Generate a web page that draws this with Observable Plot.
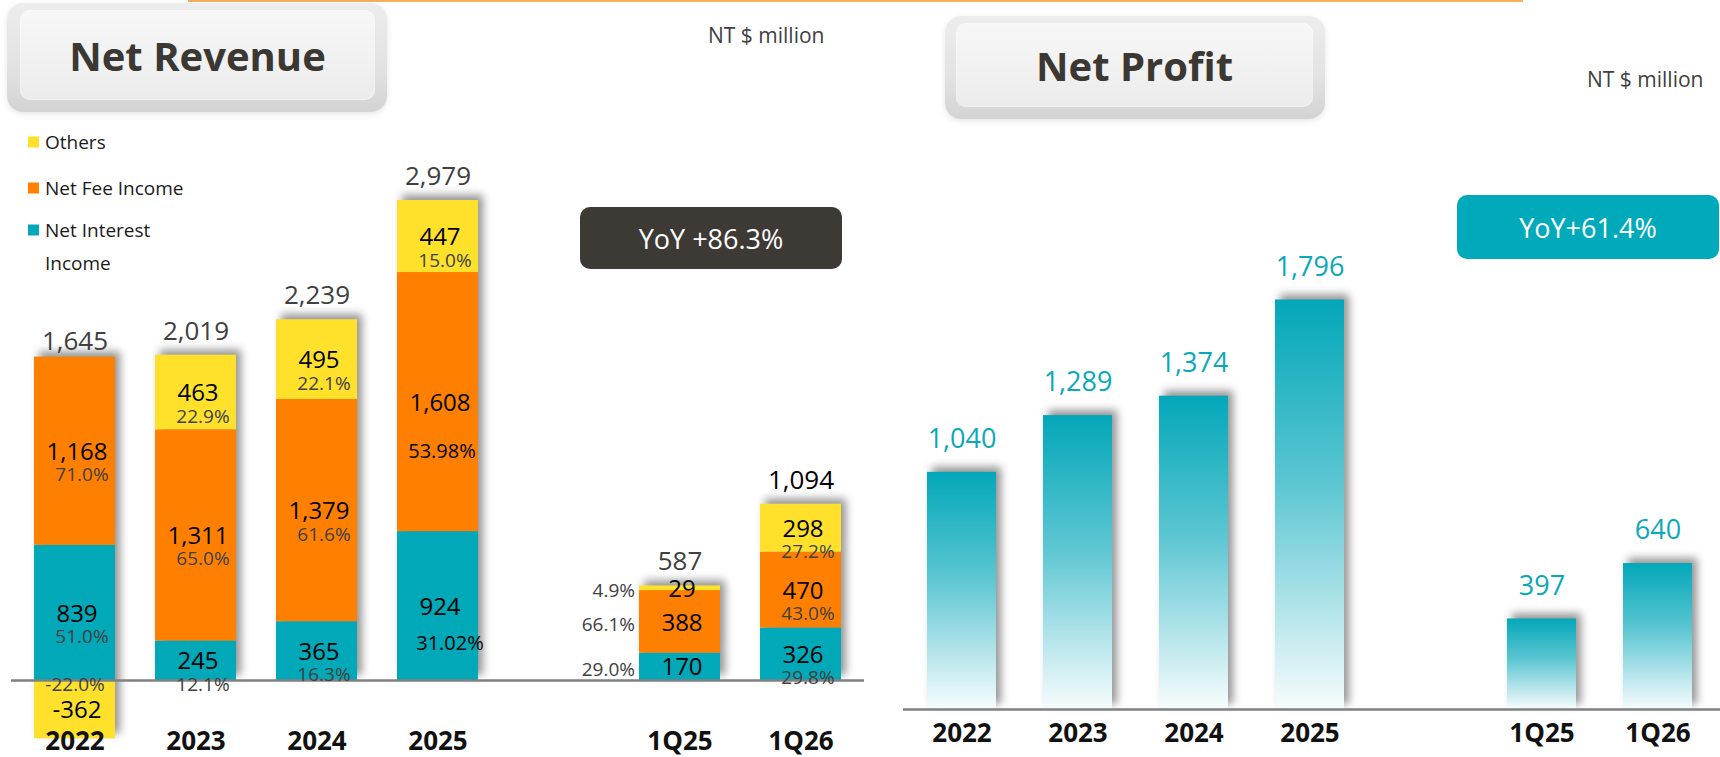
<!DOCTYPE html>
<html>
<head>
<meta charset="utf-8">
<script src="https://cdn.jsdelivr.net/npm/d3@7"></script>
<script src="https://cdn.jsdelivr.net/npm/@observablehq/plot@0.6"></script>
<style>
  body { margin: 0; background: #fff; font-family: 'Open Sans', 'Noto Sans', sans-serif; }
  #wrap { position: relative; width: 1720px; height: 757px; overflow: hidden; background: #fff; }
  #left, #right { position: absolute; top: 0; }
  #left { left: 0; }
  #right { left: 864px; }
  #wrap svg { background: transparent !important; overflow: visible; }
  g[aria-label="bar"] { filter: drop-shadow(5px -5px 4px rgba(0,0,0,0.42)); }
  .topline { position: absolute; left: 188px; top: 0; width: 1335px; height: 2px; background: #F7AE5E; }
  .key { position: absolute; border-radius: 16px; background: linear-gradient(180deg, #ededed 0%, #e2e2e2 60%, #d3d3d3 100%); box-shadow: 0 2px 6px rgba(0,0,0,0.10); }
  .face { position: absolute; border-radius: 10px; background: linear-gradient(180deg, #f7f7f7, #ececec);
          display: flex; align-items: center; justify-content: center; font-weight: 700; font-size: 40px; color: #3b3834;
          box-shadow: inset 0 0 2px rgba(255,255,255,0.8); }
  .unit { position: absolute; font-size: 21px; color: #404040; line-height: 1; transform: translateY(-50%); white-space: nowrap; }
  .leg { position: absolute; font-size: 19px; color: #1a1a1a; line-height: 1; transform: translateY(-50%); white-space: nowrap; }
  .sw { position: absolute; width: 11px; height: 11px; transform: translateY(-50%); }
  .yoy { position: absolute; border-radius: 10px; color: #fff; font-size: 27px; font-weight: 500;
         display: flex; align-items: center; justify-content: center; }
</style>
</head>
<body>
<div id="wrap">
  <div id="left"></div>
  <div id="right"></div>

  <div class="topline"></div>

  <div class="key" style="left:7px;top:3px;width:380px;height:109px;">
    <div class="face" style="left:13px;top:7px;width:355px;height:90px;">Net Revenue</div>
  </div>
  <div class="key" style="left:945px;top:16px;width:380px;height:103px;">
    <div class="face" style="left:11px;top:7px;width:357px;height:84px;">Net Profit</div>
  </div>

  <div class="unit" style="left:708px;top:35px;">NT $ million</div>
  <div class="unit" style="left:1587px;top:79px;">NT $ million</div>

  <div id="legend"></div>

  <div class="yoy" id="yoyL" style="left:580px;top:207px;width:262px;height:62px;background:#3D3A36;"></div>
  <div class="yoy" id="yoyR" style="left:1457px;top:195px;width:262px;height:64px;background:#00AABB;"></div>
</div>

<script>
// ---------- data ----------
const periods = ["2022", "2023", "2024", "2025", "1Q25", "1Q26"];
const gapSlot = "gap";
const seriesNames = ["Net Interest Income", "Net Fee Income", "Others"];
const seriesColors = ["#00A8B8", "#FF8000", "#FFE12B"];
const legendLabels = ["Others", "Net Fee Income", "Net Interest\nIncome"];

const netInterest = [839, 245, 365, 924, 170, 326];
const netFee = [1168, 1311, 1379, 1608, 388, 470];
const others = [-362, 463, 495, 447, 29, 298];
const interestPct = ["51.0%", "12.1%", "16.3%", "31.02%", "29.0%", "29.8%"];
const feePct = ["71.0%", "65.0%", "61.6%", "53.98%", "66.1%", "43.0%"];
const othersPct = ["-22.0%", "22.9%", "22.1%", "15.0%", "4.9%", "27.2%"];
const netRevenue = [1645, 2019, 2239, 2979, 587, 1094];

const netProfit = [1040, 1289, 1374, 1796, 397, 640];

const yoyRevenue = "YoY +86.3%";
const yoyProfit = "YoY+61.4%";

document.getElementById("yoyL").textContent = yoyRevenue;
document.getElementById("yoyR").textContent = yoyProfit;

// ---------- build tables ----------
const xDomain = ["2022", "2023", "2024", "2025", gapSlot, "1Q25", "1Q26"];
const fmt = d3.formatLocale({ decimal: ".", thousands: ",", grouping: [3], currency: ["$", ""], minus: "-" }).format(",");

const segs = [];
const tops = [];
periods.forEach((p, i) => {
  let pos = 0, neg = 0;
  [[netInterest, interestPct], [netFee, feePct], [others, othersPct]].forEach(([vals, pcts], k) => {
    const v = vals[i];
    let y1, y2;
    if (v >= 0) { y1 = pos; y2 = pos + v; pos = y2; } else { y1 = neg; y2 = neg + v; neg = y2; }
    segs.push({ period: p, series: seriesNames[k], value: v, pct: pcts[i], y1, y2, mid: (y1 + y2) / 2 });
  });
  tops.push({ period: p, top: pos, total: netRevenue[i], hasNeg: neg < 0 });
});

const profitRows = periods.map((p, i) => ({ period: p, value: netProfit[i] }));

const sideLabelPeriod = "1Q25";
const isTwoDec = s => /\.\d\d%$/.test(s);

// ---------- legend ----------
const legend = document.getElementById("legend");
const legendOrder = [2, 1, 0];
const legendY = [142, 188, 230];
legendOrder.forEach((k, j) => {
  const sw = document.createElement("div");
  sw.className = "sw";
  sw.style.left = "28px"; sw.style.top = legendY[j] + "px"; sw.style.background = seriesColors[k];
  legend.appendChild(sw);
  const lines = legendLabels[j].split("\n");
  lines.forEach((t, li) => {
    const el = document.createElement("div");
    el.className = "leg";
    el.style.left = "45px";
    el.style.top = (legendY[j] + li * 33) + "px";
    el.textContent = t;
    legend.appendChild(el);
  });
});

const font = "'Open Sans', 'Noto Sans', sans-serif";

// ---------- left chart ----------
const left = Plot.plot({
  width: 864,
  height: 757,
  marginLeft: 11,
  marginRight: 0,
  marginTop: 0,
  marginBottom: 26,
  style: { fontFamily: font, background: "transparent", color: "#111", overflow: "visible" },
  x: { domain: xDomain, range: [-8.8, 883.8], paddingInner: 0.327, paddingOuter: 0.327, label: null },
  y: { domain: [0, 2979], range: [680, 200], axis: null },
  color: { domain: seriesNames, range: seriesColors },
  marks: [
    Plot.barY(segs, { x: "period", y1: "y1", y2: "y2", fill: "series" }),
    Plot.ruleY([0], { stroke: "#808080", strokeWidth: 2.5 }),
    // values inside segments
    Plot.text(segs, { x: "period", y: "mid", text: d => fmt(d.value), dy: 1, dx: 2, fontSize: 24, fill: "#000" }),
    // percentages under values
    Plot.text(segs.filter(d => d.value >= 0 && d.period !== sideLabelPeriod && !isTwoDec(d.pct)),
      { x: "period", y: "mid", text: "pct", dy: 24, dx: 7, fontSize: 19, fill: "#404040" }),
    Plot.text(segs.filter(d => isTwoDec(d.pct) && d.series === seriesNames[1]),
      { x: "period", y: "mid", text: "pct", dy: 50, dx: 4, fontSize: 20, fontWeight: 500, fill: "#000" }),
    Plot.text(segs.filter(d => isTwoDec(d.pct) && d.series === seriesNames[0]),
      { x: "period", y: "mid", text: "pct", dy: 38, dx: 12, fontSize: 20, fontWeight: 500, fill: "#000" }),
    Plot.text(segs.filter(d => d.value < 0),
      { x: "period", y: "mid", text: "pct", dy: -25, dx: 0, fontSize: 19, fill: "#404040" }),
    Plot.text(segs.filter(d => d.period === sideLabelPeriod),
      { x: "period", y: "mid", text: "pct", dy: 3, dx: -45, textAnchor: "end", fontSize: 19, fill: "#404040" }),
    // totals
    Plot.text(tops.filter(d => !d.hasNeg), { x: "period", y: "top", text: d => fmt(d.total), dy: -24, fontSize: 26,
      fill: d => d.period === "1Q26" ? "#000" : "#404040" }),
    Plot.text(tops.filter(d => d.hasNeg), { x: "period", y: "top", text: d => fmt(d.total), dy: -15, fontSize: 26,
      fill: "#404040" }),
    Plot.axisX(periods, { anchor: "bottom", label: null, tickSize: 0, tickPadding: 0, fontSize: 26, fontWeight: "bold", fill: "#111" })
  ]
});
document.getElementById("left").appendChild(left);

// ---------- right chart ----------
const right = Plot.plot({
  width: 856,
  height: 757,
  marginLeft: 39,
  marginRight: 0,
  marginTop: 0,
  marginBottom: 34,
  style: { fontFamily: font, background: "transparent", color: "#111", overflow: "visible" },
  x: { domain: xDomain, range: [16, 875], paddingInner: 0.405, paddingOuter: 0.405, label: null },
  y: { domain: [0, 1796], range: [709, 299.5], axis: null },
  marks: [
    Plot.barY(profitRows, { x: "period", y: "value", fill: "url(#npGrad)" }),
    Plot.ruleY([0], { stroke: "#808080", strokeWidth: 2.5 }),
    Plot.text(profitRows, { x: "period", y: "value", text: d => fmt(d.value), dy: -33, fontSize: 27, fill: "#0AA8B8" }),
    Plot.axisX(periods, { anchor: "bottom", label: null, tickSize: 0, tickPadding: 0, fontSize: 26, fontWeight: "bold", fill: "#111" })
  ]
});
const defs = d3.select(right).insert("defs", ":first-child");
const grad = defs.append("linearGradient").attr("id", "npGrad")
  .attr("x1", 0).attr("y1", 0).attr("x2", 0).attr("y2", 1);
grad.append("stop").attr("offset", "0%").attr("stop-color", "#03A7B9");
grad.append("stop").attr("offset", "45%").attr("stop-color", "#5CC6D2");
grad.append("stop").attr("offset", "100%").attr("stop-color", "#F7FCFD");
document.getElementById("right").appendChild(right);
</script>
</body>
</html>
